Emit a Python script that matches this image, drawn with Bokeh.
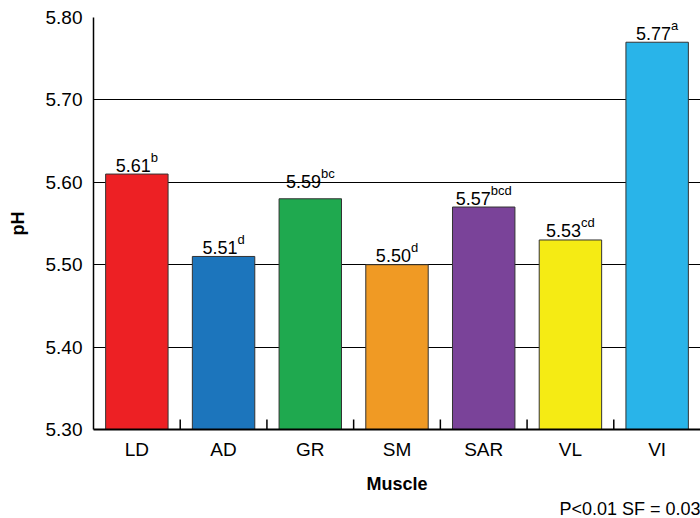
from bokeh.plotting import figure
from bokeh.models import FactorRange, Range1d, FixedTicker, ColumnDataSource, Title, NumeralTickFormatter
from bokeh.core.properties import value
from bokeh.embed import file_html
from bokeh.resources import INLINE

# ---- data ----
muscles = ["LD", "AD", "GR", "SM", "SAR", "VL", "VI"]
ph_bars = [5.61, 5.51, 5.58, 5.50, 5.57, 5.53, 5.77]
ph_labels = ["5.61", "5.51", "5.59", "5.50", "5.57", "5.53", "5.77"]
letters = ["b", "d", "bc", "d", "bcd", "cd", "a"]
colors = ["#ED2024", "#1C75BC", "#1FA94F", "#F09A24", "#7A4399", "#F5EB14", "#29B4E9"]
y_ticks = [5.30, 5.40, 5.50, 5.60, 5.70, 5.80]
note = "P<0.01 SF = 0.03"

FONT = "Liberation Sans"
W, H = 700, 518
TOP, BOTTOM, LEFT = 17, 87, 93
FS_MAIN, FS_SUP = 18, 13

p = figure(x_range=FactorRange(*muscles), y_range=Range1d(y_ticks[0], y_ticks[-1]),
           width=W, height=H, output_backend="svg", toolbar_location=None,
           min_border_left=LEFT, min_border_right=0, min_border_top=TOP, min_border_bottom=BOTTOM,
           background_fill_color="white", border_fill_color="white")
p.outline_line_color = None

# bars
p.vbar(x=muscles, top=ph_bars, bottom=y_ticks[0], width=0.72,
       fill_color=colors, line_color="#333333", line_width=1)

# category boundary ticks (inward)
frame_h = H - TOP - BOTTOM
dy = (y_ticks[-1] - y_ticks[0]) * 10 / frame_h
bnds = list(range(1, len(muscles)))
p.segment(x0=bnds, x1=bnds, y0=[y_ticks[0]] * len(bnds), y1=[y_ticks[0] + dy] * len(bnds),
          line_color="black", line_width=1.5)

# value labels with superscripts
cw = {"a": 0.556, "b": 0.556, "c": 0.5, "d": 0.556}
mw = [sum(0.556 if ch.isdigit() else 0.278 for ch in s) * FS_MAIN for s in ph_labels]
sw = [sum(cw.get(ch, 0.55) for ch in s) * FS_SUP for s in letters]
offs = [(m - s) / 2 for m, s in zip(mw, sw)]
src = ColumnDataSource(dict(x=muscles, y=[float(s) for s in ph_labels],
                            main=ph_labels, sup=letters, off=offs))
p.text(x="x", y="y", text="main", x_offset="off", y_offset=-9, source=src,
       text_align="right", text_baseline="alphabetic", text_font=value(FONT),
       text_font_size=f"{FS_MAIN}px", text_color="black")
p.text(x="x", y="y", text="sup", x_offset="off", y_offset=-17, source=src,
       text_align="left", text_baseline="alphabetic", text_font=value(FONT),
       text_font_size=f"{FS_SUP}px", text_color="black")

# grid
p.xgrid.grid_line_color = None
p.ygrid.ticker = FixedTicker(ticks=y_ticks)
p.ygrid.grid_line_color = "black"
p.ygrid.grid_line_width = 1

# y axis
p.yaxis.ticker = FixedTicker(ticks=y_ticks)
p.yaxis.formatter = NumeralTickFormatter(format="0.00")
p.yaxis.axis_label = "pH"
p.yaxis.axis_label_text_font = FONT
p.yaxis.axis_label_text_font_style = "bold"
p.yaxis.axis_label_text_font_size = "18px"
p.yaxis.axis_label_text_color = "black"
p.yaxis.axis_label_standoff = 15
p.yaxis.major_label_text_font = FONT
p.yaxis.major_label_text_font_size = "19px"
p.yaxis.major_label_text_color = "black"
p.yaxis.major_label_standoff = 11
p.yaxis.major_tick_out = 0
p.yaxis.major_tick_in = 0
p.yaxis.minor_tick_line_color = None
p.yaxis.axis_line_color = "black"
p.yaxis.axis_line_width = 1.5

# x axis
p.xaxis.axis_label = "Muscle"
p.xaxis.axis_label_text_font = FONT
p.xaxis.axis_label_text_font_style = "bold"
p.xaxis.axis_label_text_font_size = "18px"
p.xaxis.axis_label_text_color = "black"
p.xaxis.axis_label_standoff = 11
p.xaxis.major_label_text_font = FONT
p.xaxis.major_label_text_font_size = "19px"
p.xaxis.major_label_text_color = "black"
p.xaxis.major_label_standoff = 9
p.xaxis.major_tick_line_color = None
p.xaxis.major_tick_out = 0
p.xaxis.major_tick_in = 0
p.xaxis.axis_line_color = "black"
p.xaxis.axis_line_width = 2

# footnote
p.add_layout(Title(text=note, align="right", standoff=0, text_font=FONT,
                   text_font_size="18px", text_font_style="normal", text_color="black"), "below")

open("out.html", "w").write(file_html(p, INLINE))
